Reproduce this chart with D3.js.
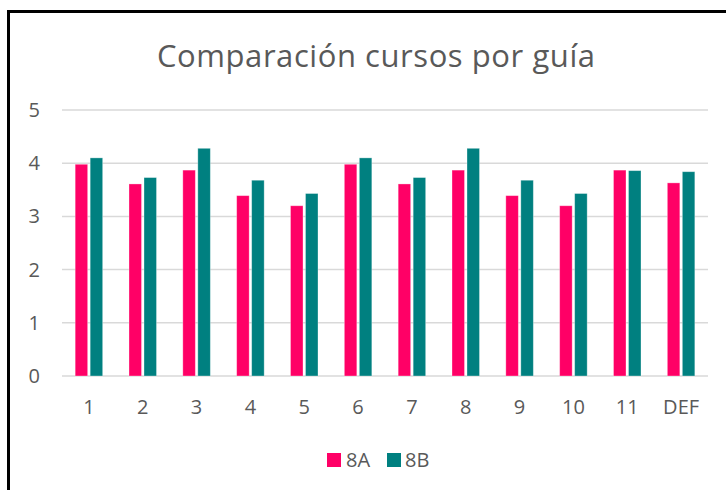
<!DOCTYPE html>
<html><head><meta charset="utf-8">
<script src="https://cdn.jsdelivr.net/npm/d3@7"></script>
<style>body{margin:0;background:#fff;}svg{display:block;}</style>
</head><body>
<script>
const categories = ["1","2","3","4","5","6","7","8","9","10","11","DEF"];
const series8A = [3.98,3.61,3.87,3.39,3.20,3.98,3.61,3.87,3.39,3.20,3.87,3.63];
const series8B = [4.10,3.73,4.28,3.68,3.43,4.10,3.73,4.28,3.68,3.43,3.86,3.84];
const seriesNames = ["8A","8B"];
const colors = ["#FF0066","#008080"];
const yTicks = [0,1,2,3,4,5];

const W=726,H=490;
const font = "'Open Sans', sans-serif";
const svg = d3.select("body").append("svg").attr("width",W).attr("height",H);
svg.append("rect").attr("width",W).attr("height",H).attr("fill","#fff");
// outer border
svg.append("rect").attr("x",8.5).attr("y",11.5).attr("width",W+20).attr("height",H+20)
  .attr("fill","none").attr("stroke","#000").attr("stroke-width",3);

const x = d3.scaleBand().domain(categories).range([62,708]);
const y = d3.scaleLinear().domain([0,5]).range([376,110]);

svg.append("text").attr("x",376).attr("y",67).attr("text-anchor","middle")
  .attr("font-family",font).attr("font-size",31).attr("fill","#595959")
  .attr("textLength",438).attr("lengthAdjust","spacing")
  .text("Comparación cursos por guía");

// gridlines
svg.append("g").selectAll("line").data(yTicks).join("line")
  .attr("x1",62).attr("x2",708).attr("y1",d=>y(d)).attr("y2",d=>y(d))
  .attr("stroke","#d9d9d9").attr("stroke-width",1.5);

const yAxis = d3.axisLeft(y).tickValues(yTicks).tickFormat(d3.format("d")).tickSize(0).tickPadding(0);
const gy = svg.append("g").attr("transform","translate(40,0)").call(yAxis);
gy.select(".domain").remove();
gy.selectAll("text").attr("font-family",font).attr("font-size",20).attr("fill","#595959")
  .attr("text-anchor","end");

const xAxis = d3.axisBottom(x).tickSize(0).tickPadding(0);
const gx = svg.append("g").attr("transform","translate(0,400)").call(xAxis);
gx.select(".domain").remove();
gx.selectAll("text").attr("font-family",font).attr("font-size",20).attr("fill","#595959");

const barW = 12.5, gap = 2.5;
const data = [series8A, series8B];
data.forEach((vals,si)=>{
  svg.append("g").selectAll("rect").data(vals).join("rect")
    .attr("x",(d,i)=>x(categories[i])+x.bandwidth()/2 + (si===0 ? -gap/2-barW : gap/2))
    .attr("width",barW)
    .attr("y",d=>y(d)).attr("height",d=>y(0)-y(d))
    .attr("fill",colors[si]).attr("stroke","#fff").attr("stroke-opacity",0.4).attr("stroke-width",0.8);
});

// legend
const leg = [{x:327,tx:346},{x:387,tx:405}];
seriesNames.forEach((n,i)=>{
  svg.append("rect").attr("x",leg[i].x).attr("y",453).attr("width",14).attr("height",14).attr("fill",colors[i]);
  svg.append("text").attr("x",leg[i].tx).attr("y",467).attr("font-family",font).attr("font-size",20)
    .attr("fill","#595959").text(n);
});
</script>
</body></html>
